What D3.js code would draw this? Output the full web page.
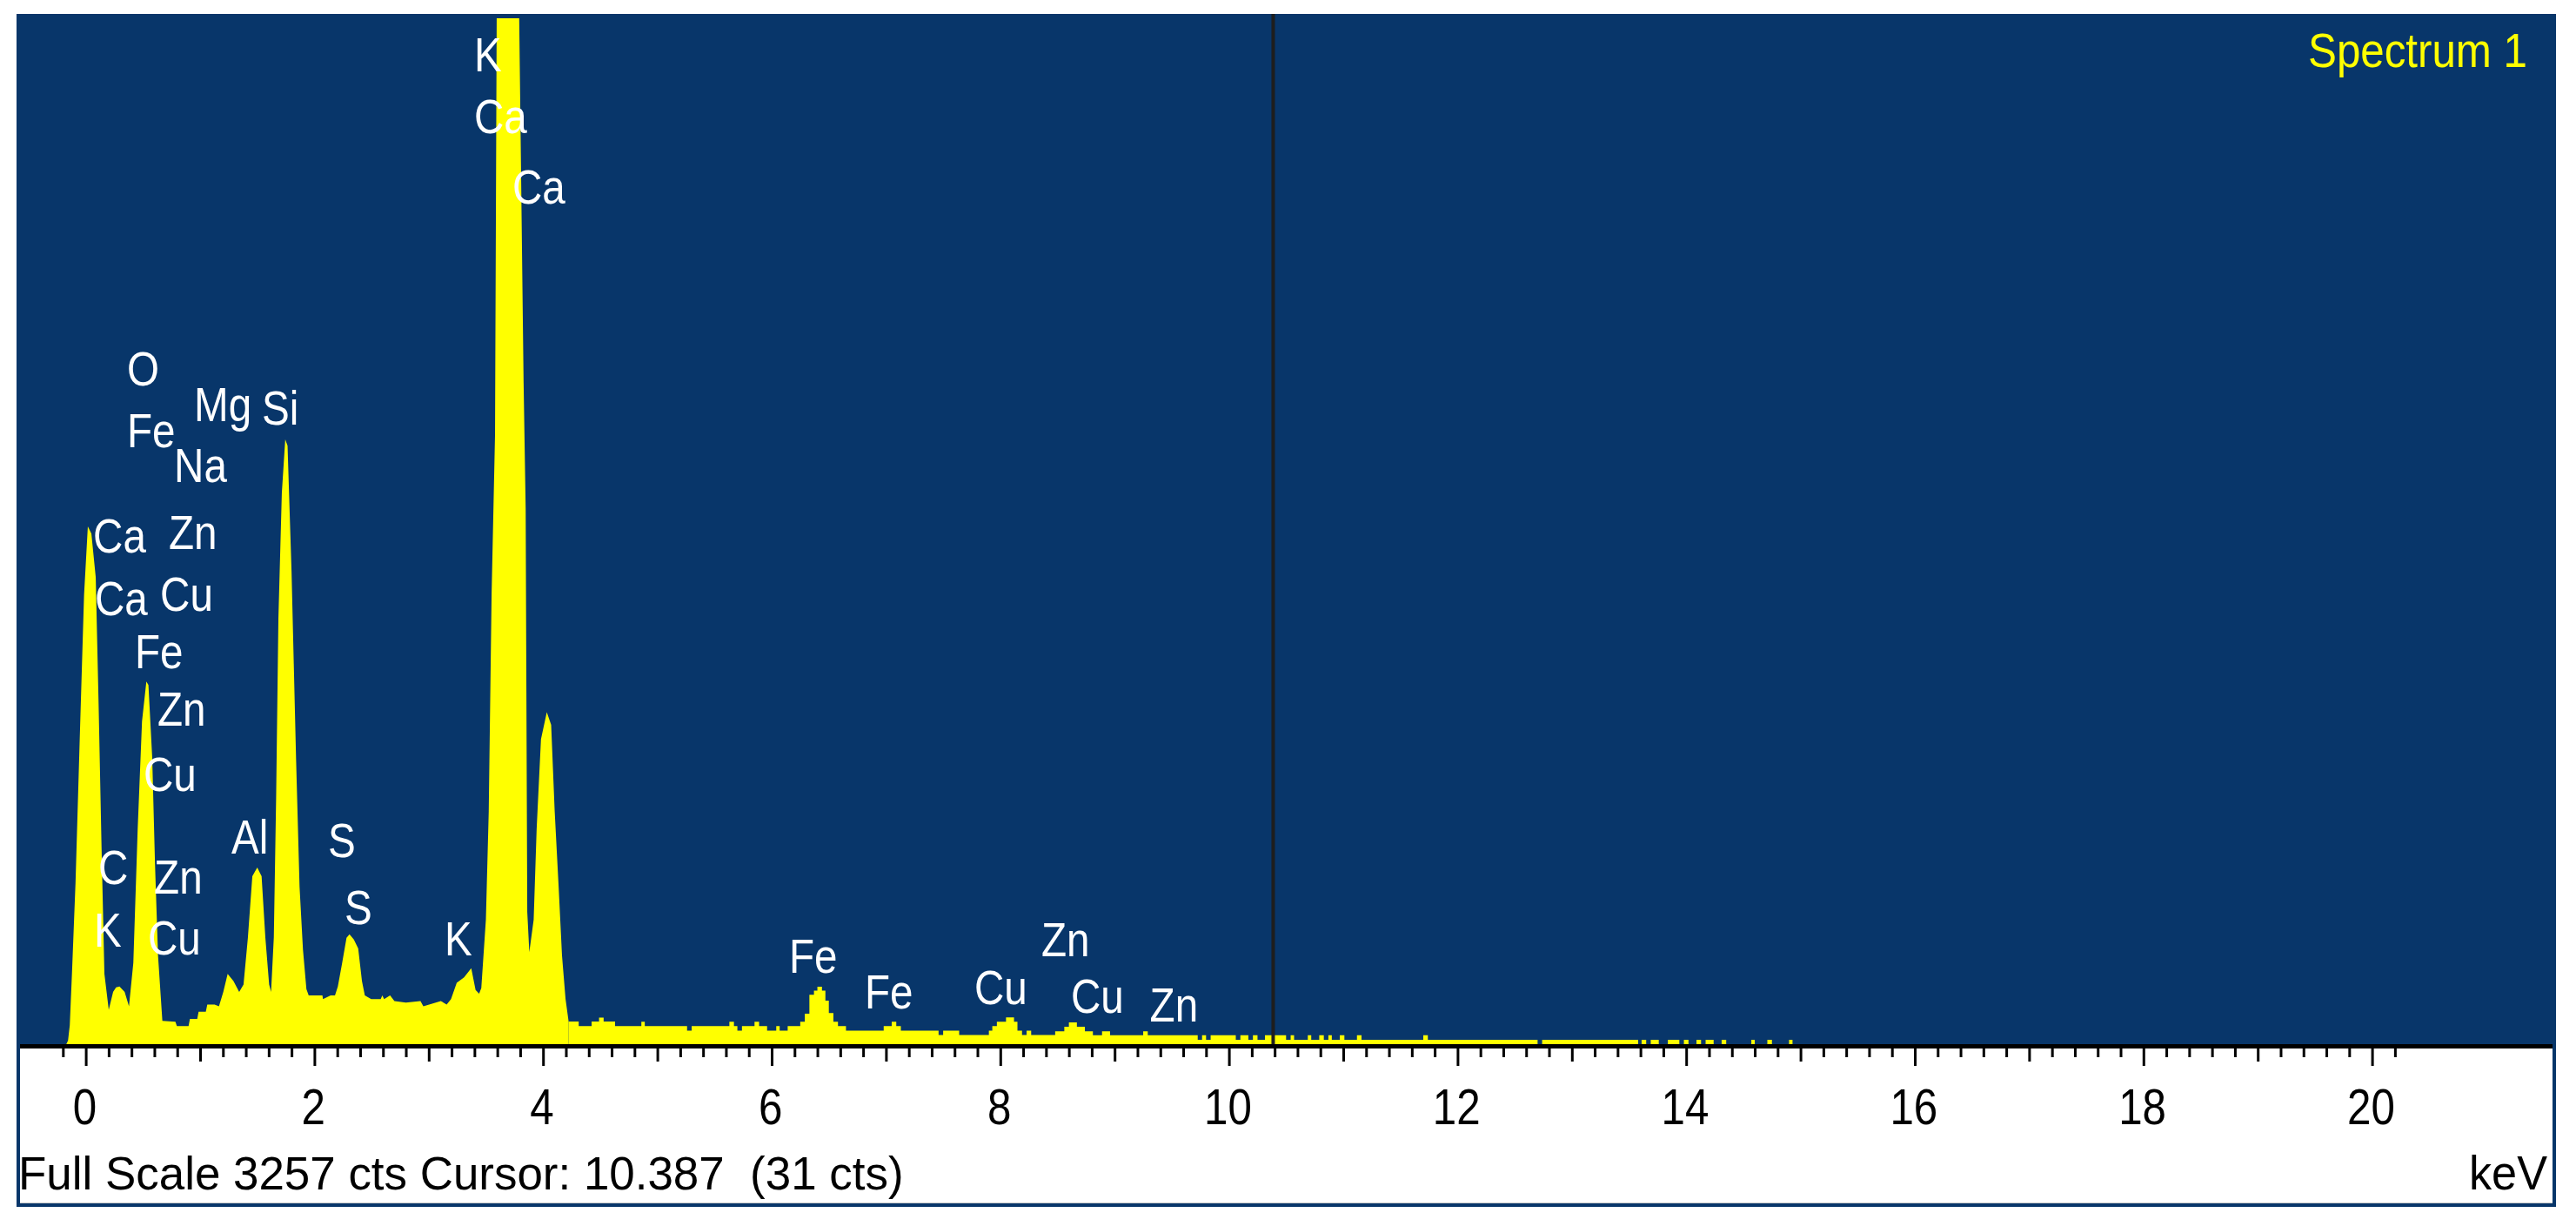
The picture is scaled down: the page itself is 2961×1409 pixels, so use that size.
<!DOCTYPE html>
<html>
<head>
<meta charset="utf-8">
<script src="https://cdn.jsdelivr.net/npm/d3@7"></script>
<style>
  html, body { margin: 0; padding: 0; background: #fff; }
  svg { display: block; }
  text { font-family: "Liberation Sans", Arial, sans-serif; }
</style>
</head>
<body>
<div id="chart"><svg></svg></div>
<script>
// EDS spectrum as [keV, counts]
// low energy part, drawn as a plain line
const peakRegion = [
    [-0.17, 0], [-0.155, 12], [-0.14, 60], [-0.121, 223], [-0.09, 510], [-0.053, 968],
    [-0.015, 1426], [0.018, 1644], [0.049, 1621], [0.087, 1483], [0.112, 1082],
    [0.138, 624], [0.163, 223], [0.201, 109], [0.239, 166], [0.265, 180], [0.295, 183],
    [0.34, 166], [0.378, 120], [0.416, 258], [0.454, 682], [0.492, 1025], [0.53, 1151],
    [0.548, 1140], [0.581, 911], [0.606, 567], [0.632, 281], [0.67, 74], [0.784, 71],
    [0.797, 57], [0.899, 57], [0.911, 80], [0.975, 80], [0.987, 103], [1.05, 103],
    [1.063, 126], [1.127, 126], [1.165, 120], [1.203, 166], [1.241, 223], [1.292, 200],
    [1.342, 166], [1.38, 189], [1.418, 338], [1.457, 533], [1.5, 561], [1.538, 533],
    [1.571, 338], [1.604, 189], [1.621, 166], [1.645, 340], [1.665, 780], [1.685, 1350],
    [1.715, 1750], [1.745, 1920], [1.765, 1900], [1.80, 1500], [1.84, 900], [1.87, 500],
    [1.90, 300], [1.93, 175], [1.95, 155], [2.07, 155], [2.075, 143], [2.142, 155],
    [2.18, 155], [2.205, 183], [2.243, 258], [2.281, 338], [2.307, 349], [2.345, 332],
    [2.383, 304], [2.416, 200], [2.441, 155], [2.497, 143], [2.58, 143], [2.594, 155],
    [2.61, 143], [2.662, 155], [2.7, 137], [2.8, 132], [2.928, 137], [2.953, 120],
    [3.004, 126], [3.106, 137], [3.157, 126], [3.195, 143], [3.245, 195], [3.309, 212],
    [3.372, 241], [3.41, 172], [3.441, 160], [3.46, 178], [3.5, 395], [3.525, 739],
    [3.55, 1426], [3.58, 1934], [3.595, 3300], [3.62, 4300], [3.70, 4800], [3.77, 4300],
    [3.79, 3300], [3.83, 2100], [3.848, 1700], [3.862, 420], [3.88, 292], [3.918, 395],
    [3.944, 682], [3.982, 968], [4.033, 1054], [4.071, 1014], [4.102, 739], [4.135, 510],
    [4.166, 281], [4.197, 143], [4.223, 74]
];

// higher energies: channel steps, each count held until the next start
const stepRegion = [
    [4.223, 72], [4.312, 57], [4.425, 72], [4.49, 84], [4.53, 72], [4.63, 57], [4.86, 71],
    [4.89, 57], [5.26, 43], [5.30, 57], [5.63, 71], [5.67, 57], [5.70, 43], [5.74, 57],
    [5.85, 71], [5.89, 57], [5.96, 43], [6.04, 57], [6.07, 43], [6.14, 57], [6.25, 71],
    [6.29, 97], [6.33, 157], [6.37, 170], [6.40, 182], [6.44, 170], [6.47, 138], [6.50, 99],
    [6.54, 71], [6.58, 57], [6.65, 43], [6.98, 57], [7.05, 71], [7.09, 57], [7.13, 43],
    [7.46, 29], [7.50, 43], [7.64, 29], [7.90, 43], [7.93, 57], [7.97, 71], [8.05, 85],
    [8.12, 71], [8.15, 43], [8.19, 29], [8.23, 43], [8.27, 29], [8.48, 41], [8.56, 55],
    [8.60, 69], [8.67, 55], [8.74, 41], [8.81, 28], [8.89, 41], [8.96, 28], [9.25, 41],
    [9.29, 28], [9.727, 14], [9.765, 28], [9.80, 14], [9.84, 28], [10.06, 14], [10.10, 28],
    [10.17, 14], [10.21, 28], [10.25, 14], [10.315, 28], [10.50, 14], [10.54, 28],
    [10.57, 14], [10.69, 28], [10.72, 14], [10.79, 28], [10.83, 14], [10.87, 28],
    [10.90, 14], [10.97, 28], [11.01, 14], [11.12, 28], [11.16, 14], [11.70, 28],
    [11.74, 14], [12.70, 0], [12.74, 14], [13.58, 0], [13.61, 14], [13.65, 0], [13.69, 14],
    [13.76, 0], [13.84, 14], [13.94, 0], [13.98, 14], [14.02, 0], [14.09, 14], [14.13, 0],
    [14.17, 14], [14.24, 0], [14.31, 14], [14.35, 0], [14.57, 14], [14.60, 0], [14.71, 14],
    [14.75, 0], [14.90, 14], [14.93, 0]
];

// element labels, anchored in keV / counts
const labelNames = ["K", "Ca", "Ca", "O", "Mg", "Si", "Fe", "Na", "Ca", "Zn", "Ca", "Cu", "Fe", "Zn",
    "Cu", "Al", "S", "C", "Zn", "S", "K", "Cu", "K", "Fe", "Fe", "Cu", "Zn", "Cu", "Zn"];
const labelKeV = [3.42, 3.42, 3.755, 0.384, 0.97, 1.563, 0.384, 0.795, 0.087, 0.749, 0.102, 0.673,
    0.452, 0.65, 0.528, 1.297, 2.142, 0.133, 0.62, 2.286, 0.095, 0.566, 3.161, 6.175, 6.837,
    7.796, 8.382, 8.64, 9.33];
const labelCts = [3088, 2892, 2669, 2091, 1978, 1967, 1895, 1785, 1561, 1572, 1362, 1376, 1193,
    1011, 804, 605, 594, 508, 478, 381, 309, 285, 282, 227, 113, 127, 279, 99, 72];

const tickLabels = [0, 2, 4, 6, 8, 10, 12, 14, 16, 18, 20];
const spectrumName = "Spectrum 1";
const fullScale = 3257;
const cursorKeV = 10.387;
const cursorCts = 31;

var chart_spectrum = {
    width: 2961,
    height: 1409,
    frame: { left: 19, right: 2938, top: 16, axis: 1200, bottom: 1387, border: 4 },
    blue: "#08366a",
    draw() {
        const f = this.frame;
        const x = d3.scaleLinear().domain([0, 20]).range([98.6, 2726.6]);
        const y = d3.scaleLinear().domain([0, fullScale]).range([f.axis, 21]);

        const svg = d3.select("#chart").select("svg")
            .attr("width", this.width)
            .attr("height", this.height);

        // frame: blue panel and white strip under it
        svg.append("rect")
            .attr("x", f.left).attr("y", f.top)
            .attr("width", f.right - f.left).attr("height", f.bottom - f.top)
            .attr("fill", this.blue);
        svg.append("rect")
            .attr("x", f.left + f.border).attr("y", f.axis)
            .attr("width", f.right - f.left - 2 * f.border)
            .attr("height", f.bottom - f.border - f.axis)
            .attr("fill", "#fff");
        svg.append("line")
            .attr("x1", f.left + f.border).attr("x2", f.right - f.border)
            .attr("y1", f.bottom - f.border - 0.5).attr("y2", f.bottom - f.border - 0.5)
            .attr("stroke", "#c9c9c9");

        svg.append("clipPath").attr("id", "plot-clip")
            .append("rect")
            .attr("x", f.left).attr("y", y(fullScale))
            .attr("width", f.right - f.left).attr("height", f.axis - y(fullScale));

        const gSpec = svg.append("g")
            .attr("clip-path", "url(#plot-clip)")
            .attr("fill", "#ffff00");

        gSpec.append("path")
            .datum(peakRegion)
            .attr("d", d3.area()
                .x(d => x(d[0]))
                .y0(y(0))
                .y1(d => y(d[1])));

        gSpec.append("path")
            .datum(stepRegion)
            .attr("d", d3.area()
                .curve(d3.curveStepAfter)
                .x(d => x(d[0]))
                .y0(y(0))
                .y1(d => y(d[1])));

        // element labels
        svg.append("g")
            .attr("fill", "#fff")
            .attr("font-size", 56)
            .selectAll("text")
            .data(labelNames)
            .join("text")
            .attr("transform", (d, i) => `translate(${x(labelKeV[i]) - 3},${y(labelCts[i])}) scale(0.85,1)`)
            .text(d => d);

        // cursor
        svg.append("line")
            .attr("x1", x(cursorKeV)).attr("x2", x(cursorKeV))
            .attr("y1", f.top).attr("y2", f.axis)
            .attr("stroke", "#1e1e1e")
            .attr("stroke-width", 4);

        svg.append("text")
            .attr("transform", `translate(2905,77) scale(0.88,1)`)
            .attr("text-anchor", "end")
            .attr("font-size", 56)
            .attr("fill", "#ffff00")
            .text(spectrumName);

        // axis band and ticks every 0.2 keV
        svg.append("rect")
            .attr("x", f.left + f.border).attr("y", f.axis)
            .attr("width", f.right - f.left - 2 * f.border).attr("height", 5)
            .attr("fill", "#000");

        const allTicks = d3.range(-1, 102).map(i => i / 5);
        const isInt = v => Math.abs(v - Math.round(v)) < 1e-6;
        const minorTicks = allTicks.filter(v => !isInt(v));
        const oddTicks = allTicks.filter(v => isInt(v) && Math.round(v) % 2 !== 0);

        const tickGroup = (vals, size) => svg.append("g")
            .attr("transform", `translate(0,${f.axis})`)
            .call(d3.axisBottom(x).tickValues(vals).tickSize(size).tickFormat(""))
            .call(g => g.select(".domain").remove())
            .call(g => g.selectAll(".tick line").attr("stroke", "#000").attr("stroke-width", 3));

        tickGroup(minorTicks, 15);
        tickGroup(oddTicks, 20);

        svg.append("g")
            .attr("transform", `translate(0,${f.axis})`)
            .call(d3.axisBottom(x).tickValues(tickLabels).tickSize(25).tickPadding(26).tickFormat(d3.format("d")))
            .call(g => g.select(".domain").remove())
            .call(g => g.selectAll(".tick line").attr("stroke", "#000").attr("stroke-width", 3))
            .call(g => g.selectAll(".tick text")
                .attr("fill", "#000")
                .attr("font-size", 58)
                .attr("font-family", "'Liberation Sans', Arial, sans-serif")
                .attr("dx", -2)
                .attr("transform", "scale(0.85,1)"));

        // status line
        svg.append("text")
            .attr("transform", `translate(21,1367) scale(0.98,1)`)
            .attr("font-size", 54)
            .attr("fill", "#000")
            .style("white-space", "pre")
            .text(`Full Scale ${fullScale} cts Cursor: ${cursorKeV.toFixed(3)}  (${cursorCts} cts)`);

        svg.append("text")
            .attr("transform", `translate(2928,1367) scale(0.95,1)`)
            .attr("text-anchor", "end")
            .attr("font-size", 55)
            .attr("fill", "#000")
            .text("keV");
    }
}

chart_spectrum.draw();
</script>
</body>
</html>
